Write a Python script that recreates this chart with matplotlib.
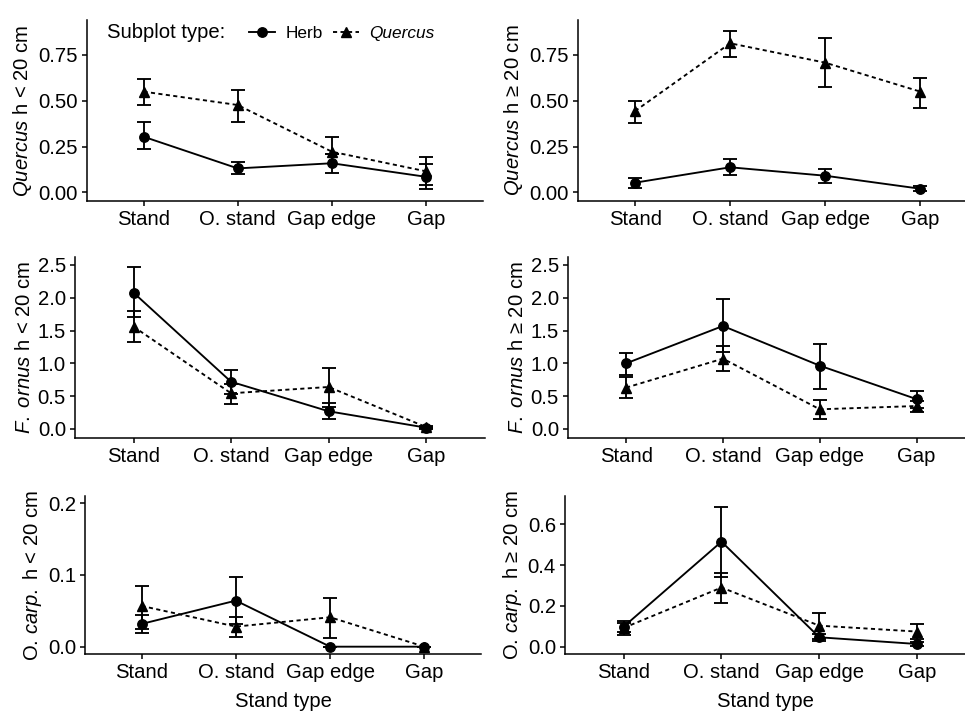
import matplotlib
matplotlib.use("Agg")
import matplotlib.pyplot as plt
import numpy as np
from matplotlib.lines import Line2D

plt.rcParams['font.family'] = ['Liberation Sans', 'DejaVu Sans']
plt.rcParams['mathtext.fontset'] = 'custom'
plt.rcParams['mathtext.rm'] = 'Liberation Sans'
plt.rcParams['mathtext.it'] = 'Liberation Sans:italic'

categories = ["Stand", "O. stand", "Gap edge", "Gap"]

# Quercus h < 20 cm
q_lo_herb = [0.304, 0.131, 0.159, 0.085]
q_lo_herb_low = [0.235, 0.100, 0.104, 0.018]
q_lo_herb_high = [0.382, 0.164, 0.209, 0.153]
q_lo_quer = [0.550, 0.477, 0.222, 0.115]
q_lo_quer_low = [0.477, 0.386, 0.209, 0.040]
q_lo_quer_high = [0.617, 0.559, 0.304, 0.191]

# Quercus h >= 20 cm
q_hi_herb = [0.053, 0.137, 0.091, 0.020]
q_hi_herb_low = [0.025, 0.095, 0.053, 0.007]
q_hi_herb_high = [0.076, 0.180, 0.127, 0.035]
q_hi_quer = [0.444, 0.814, 0.708, 0.550]
q_hi_quer_low = [0.377, 0.741, 0.573, 0.462]
q_hi_quer_high = [0.501, 0.883, 0.841, 0.626]

# F. ornus h < 20 cm
f_lo_herb = [2.078, 0.720, 0.270, 0.020]
f_lo_herb_low = [1.703, 0.534, 0.148, 0.005]
f_lo_herb_high = [2.465, 0.900, 0.392, 0.035]
f_lo_quer = [1.560, 0.544, 0.640, 0.030]
f_lo_quer_low = [1.331, 0.381, 0.340, 0.010]
f_lo_quer_high = [1.799, 0.686, 0.925, 0.045]

# F. ornus h >= 20 cm
f_hi_herb = [1.000, 1.570, 0.965, 0.455]
f_hi_herb_low = [0.823, 1.180, 0.610, 0.325]
f_hi_herb_high = [1.154, 1.980, 1.296, 0.579]
f_hi_quer = [0.630, 1.072, 0.300, 0.350]
f_hi_quer_low = [0.477, 0.884, 0.152, 0.264]
f_hi_quer_high = [0.788, 1.265, 0.442, 0.430]

# O. carp. h < 20 cm
o_lo_herb = [0.0317, 0.0642, 0.0, 0.0]
o_lo_herb_low = [0.0195, 0.0312, 0.0, 0.0]
o_lo_herb_high = [0.0443, 0.0976, 0.0, 0.0]
o_lo_quer = [0.0568, 0.0280, 0.0410, 0.0]
o_lo_quer_low = [0.0243, 0.0131, 0.0126, 0.0]
o_lo_quer_high = [0.0842, 0.0420, 0.0680, 0.0]

# O. carp. h >= 20 cm
o_hi_herb = [0.098, 0.515, 0.046, 0.013]
o_hi_herb_low = [0.072, 0.343, 0.029, 0.003]
o_hi_herb_high = [0.125, 0.683, 0.061, 0.025]
o_hi_quer = [0.092, 0.290, 0.103, 0.074]
o_hi_quer_low = [0.055, 0.213, 0.040, 0.037]
o_hi_quer_high = [0.118, 0.363, 0.167, 0.111]

W, H = 965, 713
fig = plt.figure(figsize=(W / 100, H / 100), dpi=100)

def px_axes(left, right, top, bottom):
    return fig.add_axes([left / W, 1 - bottom / H, (right - left) / W, (bottom - top) / H])

panels = [
    dict(box=(87, 482.6, 20, 201), xlim=(0.4, 4.6), ylim=(-0.047, 0.941),
         yticks=[0, 0.25, 0.5, 0.75], fmt="{:.2f}",
         label=r"$\mathit{Quercus}$ h < 20 cm",
         herb=(q_lo_herb, q_lo_herb_low, q_lo_herb_high),
         quer=(q_lo_quer, q_lo_quer_low, q_lo_quer_high), xlabel=False),
    dict(box=(578, 965, 20, 201), xlim=(0.4, 4.47), ylim=(-0.047, 0.941),
         yticks=[0, 0.25, 0.5, 0.75], fmt="{:.2f}",
         label=r"$\mathit{Quercus}$ h ≥ 20 cm",
         herb=(q_hi_herb, q_hi_herb_low, q_hi_herb_high),
         quer=(q_hi_quer, q_hi_quer_low, q_hi_quer_high), xlabel=False),
    dict(box=(75, 484.6, 256.7, 437.7), xlim=(0.4, 4.6), ylim=(-0.133, 2.626),
         yticks=[0, 0.5, 1.0, 1.5, 2.0, 2.5], fmt="{:.1f}",
         label=r"$\mathit{F.}$ $\mathit{ornus}$ h < 20 cm",
         herb=(f_lo_herb, f_lo_herb_low, f_lo_herb_high),
         quer=(f_lo_quer, f_lo_quer_low, f_lo_quer_high), xlabel=False),
    dict(box=(568, 965, 256.7, 437.7), xlim=(0.4, 4.5), ylim=(-0.133, 2.626),
         yticks=[0, 0.5, 1.0, 1.5, 2.0, 2.5], fmt="{:.1f}",
         label=r"$\mathit{F.}$ $\mathit{ornus}$ h ≥ 20 cm",
         herb=(f_hi_herb, f_hi_herb_low, f_hi_herb_high),
         quer=(f_hi_quer, f_hi_quer_low, f_hi_quer_high), xlabel=False),
    dict(box=(85, 481, 496, 654), xlim=(0.4, 4.6), ylim=(-0.0102, 0.210),
         yticks=[0, 0.1, 0.2], fmt="{:.1f}",
         label=r"O. $\mathit{carp.}$ h < 20 cm",
         herb=(o_lo_herb, o_lo_herb_low, o_lo_herb_high),
         quer=(o_lo_quer, o_lo_quer_low, o_lo_quer_high), xlabel=True),
    dict(box=(565, 965, 496, 654), xlim=(0.4, 4.49), ylim=(-0.036, 0.739),
         yticks=[0, 0.2, 0.4, 0.6], fmt="{:.1f}",
         label=r"O. $\mathit{carp.}$ h ≥ 20 cm",
         herb=(o_hi_herb, o_hi_herb_low, o_hi_herb_high),
         quer=(o_hi_quer, o_hi_quer_low, o_hi_quer_high), xlabel=True),
]

FS = 14.6
LW = 1.35
x = np.arange(1, len(categories) + 1)

for p in panels:
    ax = px_axes(*p["box"])
    for key, ls, mk in (("herb", "-", "o"), ("quer", (0, (2.2, 1.8)), "^")):
        m, lo, hi = (np.array(v) for v in p[key])
        ax.errorbar(x, m, yerr=[m - lo, hi - m], fmt="none", ecolor="black",
                    elinewidth=LW, capsize=5.2, capthick=LW, zorder=2)
        ax.plot(x, m, color="black", linestyle=ls, linewidth=LW, marker=mk,
                markersize=6.8, zorder=3)
    ax.set_xlim(*p["xlim"])
    ax.set_ylim(*p["ylim"])
    ax.set_xticks(x)
    ax.set_xticklabels(categories, fontsize=FS)
    ax.set_yticks(p["yticks"])
    ax.set_yticklabels([p["fmt"].format(v) for v in p["yticks"]], fontsize=FS)
    ax.set_ylabel(p["label"], fontsize=FS, labelpad=3)
    for s in ("top", "right"):
        ax.spines[s].set_visible(False)
    for s in ("left", "bottom"):
        ax.spines[s].set_linewidth(1.1)
    ax.tick_params(axis="both", length=3.5, width=1.1, pad=3, colors="black")
    if p["xlabel"]:
        ax.set_xlabel("Stand type", fontsize=FS, labelpad=7)

fig.text(107 / W, 1 - 33 / H, "Subplot type:", fontsize=14.6, ha="left", va="center")
handles = [
    Line2D([], [], color="black", linestyle="-", linewidth=LW, marker="o", markersize=6.8),
    Line2D([], [], color="black", linestyle=(0, (2.2, 1.8)), linewidth=LW, marker="^", markersize=6.8),
]
leg = fig.legend(handles, ["Herb", "Quercus"], loc="center left",
                 bbox_to_anchor=(249 / W, 1 - 33 / H), ncol=2, frameon=False,
                 fontsize=12.4, handlelength=1.5, handletextpad=0.6,
                 columnspacing=0.6, borderpad=0, borderaxespad=0)
leg.get_texts()[1].set_style("italic")

fig.savefig("out.png", dpi=100)
